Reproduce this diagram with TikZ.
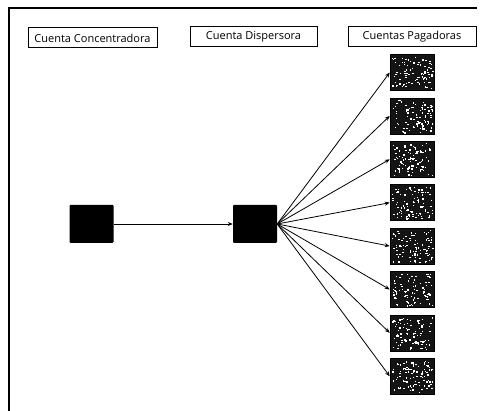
\documentclass[tikz,border=0pt]{standalone}
\usepackage{fontspec}
\setmainfont{Open Sans}
\usetikzlibrary{arrows.meta}
\begin{document}
\begin{tikzpicture}[x=1pt,y=-1pt,
  headbox/.style={draw=black, line width=1pt, minimum height=20pt, inner sep=0pt,
    font=\fontsize{11}{12}\selectfont},
  solidacct/.style={fill=black, draw=none, minimum width=44pt, minimum height=38pt,
    inner sep=0pt, rounded corners=1pt},
  payer/.style={fill=black!92, draw=black, line width=0.5pt, minimum width=44pt,
    minimum height=36pt, inner sep=0pt},
  flow/.style={-{Stealth[length=5pt,width=4pt]}, line width=0.8pt}]
\useasboundingbox (0,0) rectangle (480,411);

% outer frame (top and left edges only)
\coordinate (frameBL) at (9,411);
\coordinate (frameTL) at (9,8);
\coordinate (frameTR) at (477,8);
\draw[line width=1.8pt] (frameBL) -- (frameTL) -- (frameTR);

% column headings
\node[headbox, minimum width=129pt] (hConc) at (92.5,38) {Cuenta Concentradora};
\node[headbox, minimum width=127pt] (hDisp) at (253.5,37) {Cuenta Dispersora};
\node[headbox, minimum width=128pt] (hPag)  at (412,37)   {Cuentas Pagadoras};

% concentrating and dispersing accounts
\node[solidacct] (conc) at (91.5,224) {};
\node[solidacct] (disp) at (255,224) {};

% paying accounts, each with a speckled fill
\pgfmathsetseed{4711}
\foreach \i in {0,...,7}{
  \node[payer] (p\i) at (412,72.5+43.4*\i) {};
  \foreach \k in {1,...,90}{
    \pgfmathsetmacro\sx{412+(rnd-0.5)*40}
    \pgfmathsetmacro\sy{72.5+43.4*\i+(rnd-0.5)*32}
    \pgfmathsetmacro\sw{0.6+rnd*1.6}
    \pgfmathsetmacro\sh{0.6+rnd*1.1}
    \fill[white] (\sx,\sy) rectangle ++(\sw,\sh);
  }
}

% transfers
\draw[flow] (conc.east) -- (disp.west);
\foreach \i in {0,...,7}{
  \draw[flow] (disp.east) -- (p\i.west);
}
\end{tikzpicture}
\end{document}
